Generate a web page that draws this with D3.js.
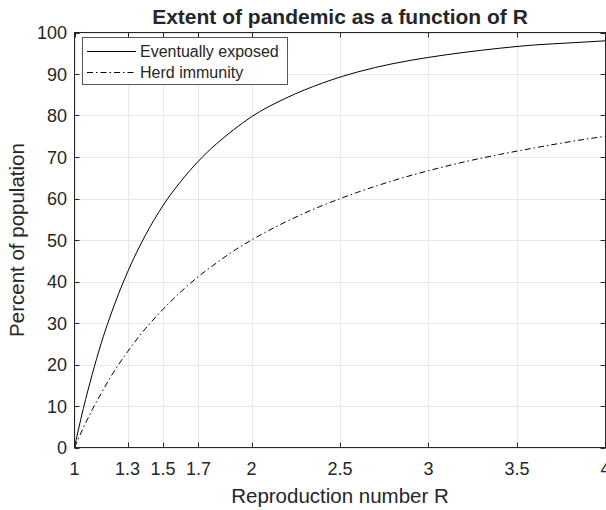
<!DOCTYPE html>
<html><head><meta charset="utf-8">
<script src="https://cdn.jsdelivr.net/npm/d3@7"></script>
<style>body{margin:0;background:#fff}svg{display:block}text{font-family:"Liberation Sans",Arial,sans-serif;fill:#262626}</style>
</head><body><svg id="c" width="606" height="510"></svg>
<script>
const R = [1, 1.02, 1.05, 1.1, 1.15, 1.2, 1.3, 1.4, 1.5, 1.6, 1.7, 1.8, 1.9, 2.0, 2.2, 2.4, 2.6, 2.8, 3.0, 3.2, 3.4, 3.6, 3.8, 4.0];
const exposed = [0, 3.9, 9.4, 17.6, 25.0, 31.4, 42.3, 51.1, 58.3, 64.1, 69.0, 73.1, 76.6, 79.7, 84.3, 87.8, 90.5, 92.5, 94.0, 95.2, 96.2, 97.0, 97.5, 98.0];
const herd = [0, 1.96, 4.76, 9.09, 13.0, 16.7, 23.1, 28.6, 33.3, 37.5, 41.2, 44.4, 47.4, 50.0, 54.5, 58.3, 61.5, 64.3, 66.7, 68.8, 70.6, 72.2, 73.7, 75.0];
const xTicks = [1, 1.3, 1.5, 1.7, 2, 2.5, 3, 3.5, 4];
const yTicks = [0, 10, 20, 30, 40, 50, 60, 70, 80, 90, 100];
const seriesNames = ["Eventually exposed", "Herd immunity"];

const svg = d3.select("#c");
const L = 74.5, Rt = 605.5, T = 32.5, B = 447.5;
const x = d3.scaleLinear().domain([1, 4]).range([L, Rt]);
const y = d3.scaleLinear().domain([0, 100]).range([B, T]);
const axC = "#262626";

// grid
const g = svg.append("g");
g.selectAll(".vx").data(xTicks).join("line")
  .attr("x1", d => Math.round(x(d)) + 0.5).attr("x2", d => Math.round(x(d)) + 0.5)
  .attr("y1", T).attr("y2", B).attr("stroke", "#e8e8e8");
g.selectAll(".hy").data(yTicks).join("line")
  .attr("y1", d => Math.round(y(d)) + 0.5).attr("y2", d => Math.round(y(d)) + 0.5)
  .attr("x1", L).attr("x2", Rt).attr("stroke", "#e8e8e8");

// curves
const clip = svg.append("clipPath").attr("id", "cp").append("rect")
  .attr("x", L).attr("y", T - 1).attr("width", Rt - L).attr("height", B - T + 1);
const line = d3.line().x((d, i) => x(R[i])).y(d => y(d)).curve(d3.curveMonotoneX);
svg.append("path").datum(exposed).attr("d", line).attr("fill", "none")
  .attr("stroke", "#000").attr("stroke-width", 1).attr("clip-path", "url(#cp)");
svg.append("path").datum(herd).attr("d", line).attr("fill", "none")
  .attr("stroke", "#000").attr("stroke-width", 1).attr("stroke-dasharray", "6,3,1.5,3").attr("clip-path", "url(#cp)");

// axes box
svg.append("rect").attr("x", L).attr("y", T).attr("width", Rt - L).attr("height", B - T)
  .attr("fill", "none").attr("stroke", axC).attr("stroke-width", 1);
const tl = 5;
xTicks.forEach(d => {
  const px = Math.round(x(d)) + 0.5;
  svg.append("line").attr("x1", px).attr("x2", px).attr("y1", B).attr("y2", B - tl).attr("stroke", axC);
  svg.append("line").attr("x1", px).attr("x2", px).attr("y1", T).attr("y2", T + tl).attr("stroke", axC);
});
yTicks.forEach(d => {
  const py = Math.round(y(d)) + 0.5;
  svg.append("line").attr("y1", py).attr("y2", py).attr("x1", L).attr("x2", L + tl).attr("stroke", axC);
  svg.append("line").attr("y1", py).attr("y2", py).attr("x1", Rt).attr("x2", Rt - tl).attr("stroke", axC);
});
svg.selectAll(".xt").data(xTicks).join("text")
  .attr("x", d => x(d)).attr("y", 475).attr("text-anchor", "middle")
  .attr("font-size", 18).text(d => d3.format("")(d));
svg.selectAll(".yt").data(yTicks).join("text")
  .attr("x", 67).attr("y", d => y(d) + 6.5).attr("text-anchor", "end")
  .attr("font-size", 18).text(d => d);

// labels
svg.append("text").attr("x", (L + Rt) / 2).attr("y", 503).attr("text-anchor", "middle")
  .attr("font-size", 20.5).text("Reproduction number R");
svg.append("text").attr("transform", `translate(24,${(T + B) / 2}) rotate(-90)`)
  .attr("text-anchor", "middle").attr("font-size", 20.5).text("Percent of population");
svg.append("text").attr("x", 340).attr("y", 23.5).attr("text-anchor", "middle")
  .attr("font-size", 21).attr("font-weight", "bold").attr("fill", "#000").text("Extent of pandemic as a function of R");

// legend
const lg = svg.append("g");
lg.append("rect").attr("x", 82.5).attr("y", 37.5).attr("width", 205).attr("height", 47)
  .attr("fill", "#fff").attr("stroke", "#555");
const rows = [51.5, 72.5];
seriesNames.forEach((n, i) => {
  lg.append("line").attr("x1", 87).attr("x2", 136).attr("y1", rows[i]).attr("y2", rows[i])
    .attr("stroke", "#000").attr("stroke-dasharray", i ? "6,3,1.5,3" : null);
  lg.append("text").attr("x", 140).attr("y", rows[i] + 5.8).attr("font-size", 16).text(n);
});
</script></body></html>
